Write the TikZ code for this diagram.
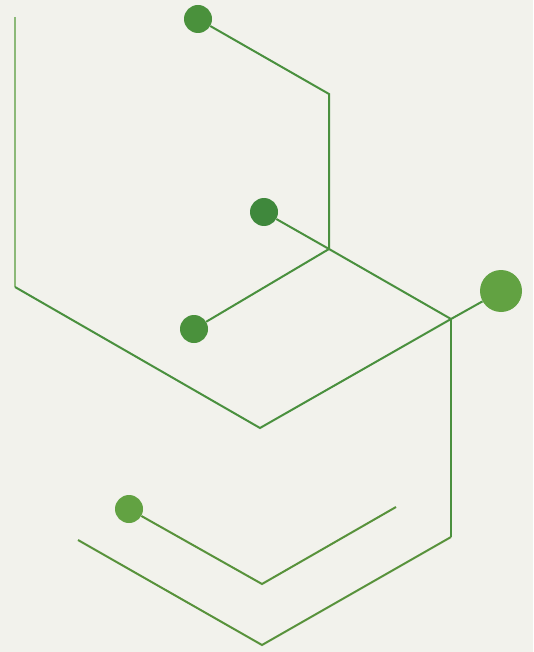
\documentclass[tikz,border=0pt]{standalone}
\usepackage{tikz}
\usetikzlibrary{positioning}
\definecolor{bgpaper}{RGB}{242,242,236}
\definecolor{leafgreen}{RGB}{74,144,62}
\definecolor{darkleaf}{RGB}{63,136,60}
\definecolor{midleaf}{RGB}{74,145,60}
\definecolor{lightleaf}{RGB}{98,162,66}
\definecolor{paleleaf}{RGB}{140,185,120}

\begin{document}
\begin{tikzpicture}[x=1pt, y=-1pt,
    dot/.style={circle, fill=#1, inner sep=0pt, minimum size=28pt},
    bigdot/.style={circle, fill=lightleaf, inner sep=0pt, minimum size=42pt},
    link/.style={line width=2pt, color=leafgreen, line join=miter},
    lowlink/.style={line width=2pt, color=lightleaf!90!black, line join=miter},
    thinlink/.style={line width=1.1pt, color=paleleaf}
]

\fill[bgpaper] (0,0) rectangle (533,652);

% dots
\node[dot=midleaf] (top) at (198,19) {};
\node[dot=darkleaf] (mid) at (264,212) {};
\node[dot=midleaf] (left) at (194,329) {};
\node[bigdot] (right) at (501,291) {};
\node[dot=lightleaf] (low) at (129,509) {};

% corners of the frame
\coordinate (tl) at (15,17);
\coordinate (bl) at (15,287);
\coordinate (bend) at (329,94);
\coordinate (hub) at (329,249);
\coordinate (base) at (260,428);
\coordinate (knot) at (451,319);
\coordinate (foot) at (451,537);
\coordinate (tipA) at (262,645);
\coordinate (tipB) at (78,540);
\coordinate (vee) at (262,584);
\coordinate (vend) at (396,507);

\draw[thinlink] (tl) -- (bl);
\draw[link] (bl) -- (base) -- (knot) -- (right);
\draw[link] (top) -- (bend) -- (hub);
\draw[link] (mid) -- (hub) -- (knot);
\draw[link] (left) -- (hub);
\draw[link] (knot) -- (foot);
\draw[lowlink] (foot) -- (tipA) -- (tipB);
\draw[lowlink] (low) -- (vee) -- (vend);

\end{tikzpicture}
\end{document}
